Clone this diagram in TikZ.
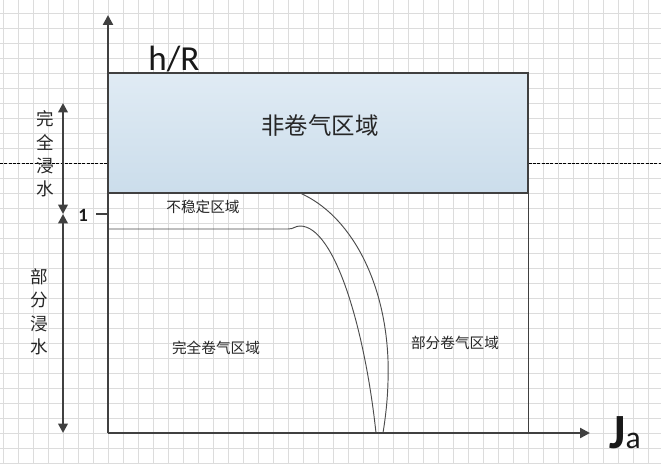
\documentclass[tikz,border=0pt]{standalone}
\usepackage{fontspec}
\setmainfont{Carlito}
\newfontfamily\cjk{Noto Sans CJK SC}
\usepackage{xcolor}
\usepackage{tikz}
\usetikzlibrary{arrows.meta,positioning,calc}
\definecolor{axisgray}{HTML}{404040}
\definecolor{gridgray}{HTML}{DCDCDC}
\definecolor{boxtop}{HTML}{E0EBF4}
\definecolor{boxbot}{HTML}{CBDDEB}

\begin{document}
\begin{tikzpicture}[
    x=0.03cm, y=-0.03cm,
    gridline/.style={draw=gridgray, line width=0.8pt},
    axis/.style={draw=axisgray, line width=2pt, -{Triangle[length=8.5pt,width=8.5pt]}},
    span/.style={draw=axisgray, line width=2pt, {Triangle[length=8pt,width=8pt]}-{Triangle[length=8pt,width=8pt]}},
    zone/.style={rectangle, draw=axisgray, line width=1pt, top color=boxtop, bottom color=boxbot, minimum width=12.6cm, minimum height=3.6cm, inner sep=0pt},
    bigzone/.style={font=\cjk\fontsize{20pt}{24pt}\selectfont, text=black!85},
    smallzone/.style={font=\cjk\fontsize{12.5pt}{15pt}\selectfont, text=black!85},
    sidelabel/.style={font=\cjk\fontsize{15pt}{20pt}\selectfont, align=center, text=black!85},
    curve/.style={draw=black!70, line width=0.8pt},
    dashline/.style={draw=black, line width=0.6pt, dash pattern=on 2.5pt off 1.2pt}
]
\useasboundingbox[fill=white] (0,0) rectangle (661,463);

% background grid
\foreach \gx in {3,18,...,660}
    \draw[gridline] (\gx,0) -- (\gx,463);
\foreach \gy in {13,28,...,463}
    \draw[gridline] (0,\gy) -- (661,\gy);

% axes
\coordinate (origin) at (108,433);
\coordinate (ytip) at (108,15);
\coordinate (xtip) at (590,433);

% upper zone
\node[zone] (nonair) at (318,133) {};
\node[bigzone] (nonairtext) at (320,126) {非卷气区域};

% dashed level
\coordinate (dleft) at (0,163);
\coordinate (dright) at (661,163);
\draw[dashline] (dleft) -- (dleft -| nonair.west);
\draw[dashline] (nonair.east |- dright) -- (dright);

% right border of the lower region
\draw[draw=axisgray, line width=1pt] (nonair.south east) -- (nonair.south east |- origin);

% boundaries between the regions
\coordinate (lowstart) at (108,229);
\coordinate (lowbend) at (288,229);
\coordinate (lowtop) at (300,226);
\coordinate (lowend) at (376,433);
\coordinate (highstart) at (300,193);
\coordinate (highmid) at (388,360);
\coordinate (highend) at (383,433);
\draw[curve] (lowstart) -- (lowbend) .. controls (294,229) and (295,226) .. (lowtop)
    .. controls (335,226) and (365,330) .. (lowend);
\draw[curve] (highstart) .. controls (350,215) and (385,280) .. (highmid)
    .. controls (389,395) and (385,420) .. (highend);

\draw[axis] (origin) -- (ytip);
\draw[axis] (origin) -- (xtip);

% axis labels
\node[anchor=base, font=\fontsize{30pt}{30pt}\selectfont, text=black!90] (ylabel) at (174,70) {h/R};
\node[anchor=base west, inner sep=0pt, text=black!90] (xlabel) at (609,448)
    {{\bfseries\fontsize{42pt}{42pt}\selectfont J}{\fontsize{27pt}{27pt}\selectfont a}};

% level 1
\coordinate (onetick) at (96,214);
\draw[draw=axisgray, line width=1.5pt] (onetick) -- (onetick -| origin);
\node[font=\bfseries\fontsize{16pt}{16pt}\selectfont, text=black!90] (one) at (83,215) {1};

% immersion spans
\coordinate (fulltop) at (63,103);
\coordinate (fullbot) at (63,214);
\coordinate (partbot) at (63,433);
\draw[span] (fulltop) -- (fullbot);
\draw[span] (fullbot) -- (partbot);
\node[sidelabel] (full) at (45,154) {完\\全\\浸\\水};
\node[sidelabel] (part) at (39,312) {部\\分\\浸\\水};

% region names
\node[smallzone] (unstable) at (203,207) {不稳定区域};
\node[smallzone] (fullair) at (216,348) {完全卷气区域};
\node[smallzone] (partair) at (455,343) {部分卷气区域};
\end{tikzpicture}
\end{document}
